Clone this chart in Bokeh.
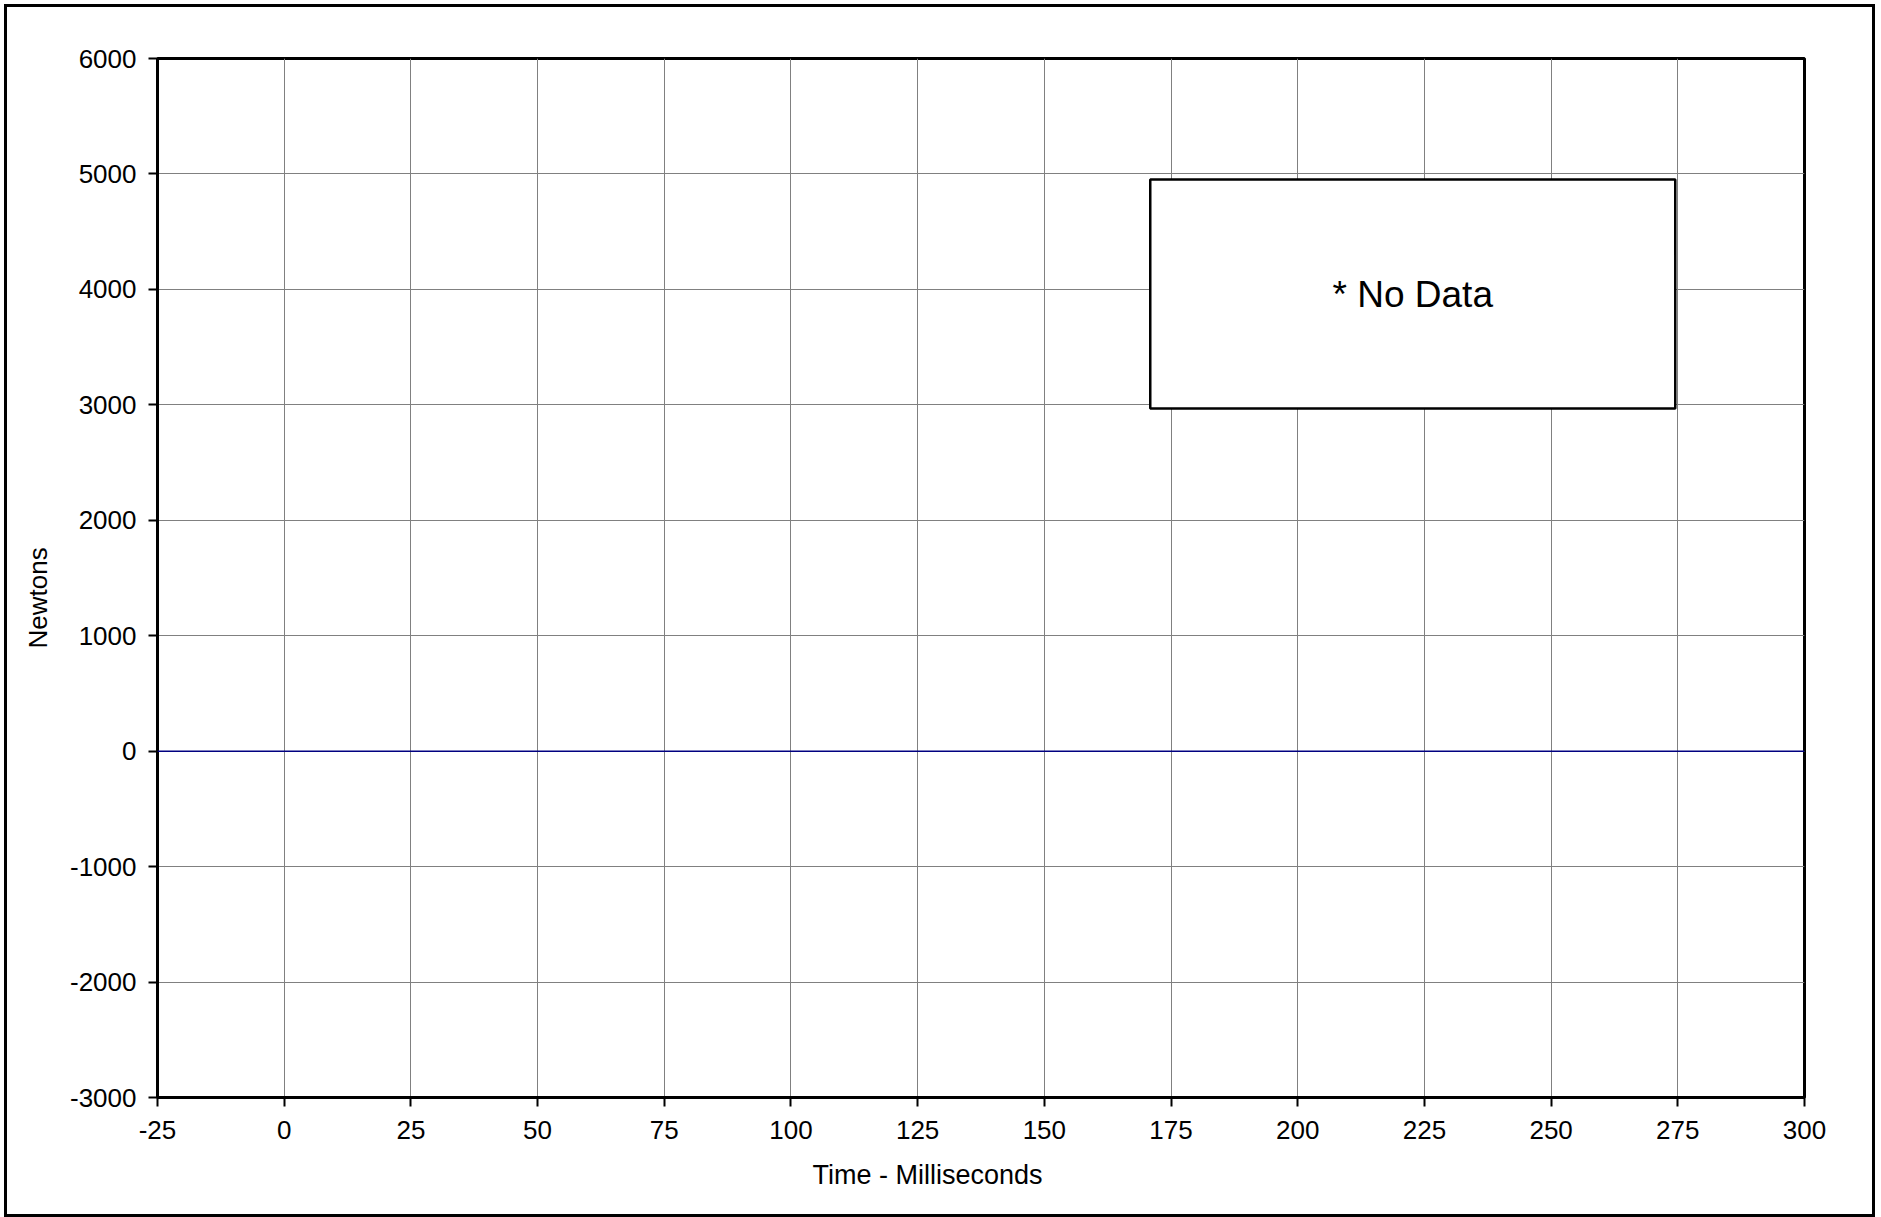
from bokeh.plotting import figure
from bokeh.models import Range1d, FixedTicker, BoxAnnotation, Label, Span, Title
from bokeh.embed import file_html
from bokeh.resources import INLINE

# ---- chart content ----
x_ticks = [-25, 0, 25, 50, 75, 100, 125, 150, 175, 200, 225, 250, 275, 300]
y_ticks = [-3000, -2000, -1000, 0, 1000, 2000, 3000, 4000, 5000, 6000]
x_range = (-25, 300)
y_range = (-3000, 6000)
x_title = "Time - Milliseconds"
y_title = "Newtons"
note_text = "* No Data"
note_left, note_right = 170.9, 274.5
note_bottom, note_top = 2968, 4952

FONT = "Liberation Sans"

p = figure(
    width=1878, height=1217,
    x_range=Range1d(*x_range), y_range=Range1d(*y_range),
    output_backend="svg", toolbar_location=None,
    min_border_left=157, min_border_top=58,
    min_border_right=74, min_border_bottom=120,
    background_fill_color="white", border_fill_color="white",
)
# outer frame around the whole chart
p.stylesheets = [
    ":host { position: relative; }"
    ":host::after { content: ''; position: absolute; left: 4px; top: 4px; right: 3px; bottom: 0px;"
    " border: 3px solid black; pointer-events: none; z-index: 1000; }"
]

p.outline_line_color = "black"
p.outline_line_width = 3

for ax in (p.xaxis[0], p.yaxis[0]):
    ax.axis_line_color = "black"
    ax.axis_line_width = 3
    ax.major_tick_line_color = "black"
    ax.major_tick_line_width = 2
    ax.major_tick_out = 9
    ax.major_tick_in = 0
    ax.minor_tick_line_color = None
    ax.major_label_text_font = FONT
    ax.major_label_text_font_size = "26px"
    ax.major_label_text_color = "black"

p.xaxis.ticker = FixedTicker(ticks=x_ticks)
p.yaxis.ticker = FixedTicker(ticks=y_ticks)
p.xaxis.major_label_overrides = {t: str(t) for t in x_ticks}
p.yaxis.major_label_overrides = {t: str(t) for t in y_ticks}
p.xaxis.major_label_standoff = 14
p.yaxis.major_label_standoff = 12

p.xgrid.grid_line_color = "#808080"
p.ygrid.grid_line_color = "#808080"
p.xgrid.grid_line_width = 1
p.ygrid.grid_line_width = 1

p.add_layout(Span(location=0, dimension="width", line_color="#000080", line_width=1.5))

p.add_layout(BoxAnnotation(left=note_left, right=note_right, bottom=note_bottom, top=note_top,
                           fill_color="white", fill_alpha=1.0,
                           line_color="black", line_alpha=1.0, line_width=2.5))
p.add_layout(Label(x=(note_left + note_right) / 2, y=(note_bottom + note_top) / 2,
                   text=note_text, text_align="center", text_baseline="middle",
                   text_font=FONT, text_font_size="37px", text_color="black"))

# axis titles (centred on the whole chart in the original, so offset along the frame)
p.add_layout(Title(text=x_title, align="left", offset=655, standoff=33,
                   text_font=FONT, text_font_size="27px", text_font_style="normal",
                   text_color="black"), "below")
p.add_layout(Title(text=y_title, align="left", offset=449, standoff=29,
                   text_font=FONT, text_font_size="26px", text_font_style="normal",
                   text_color="black"), "left")

open("out.html", "w").write(file_html(p, INLINE))
